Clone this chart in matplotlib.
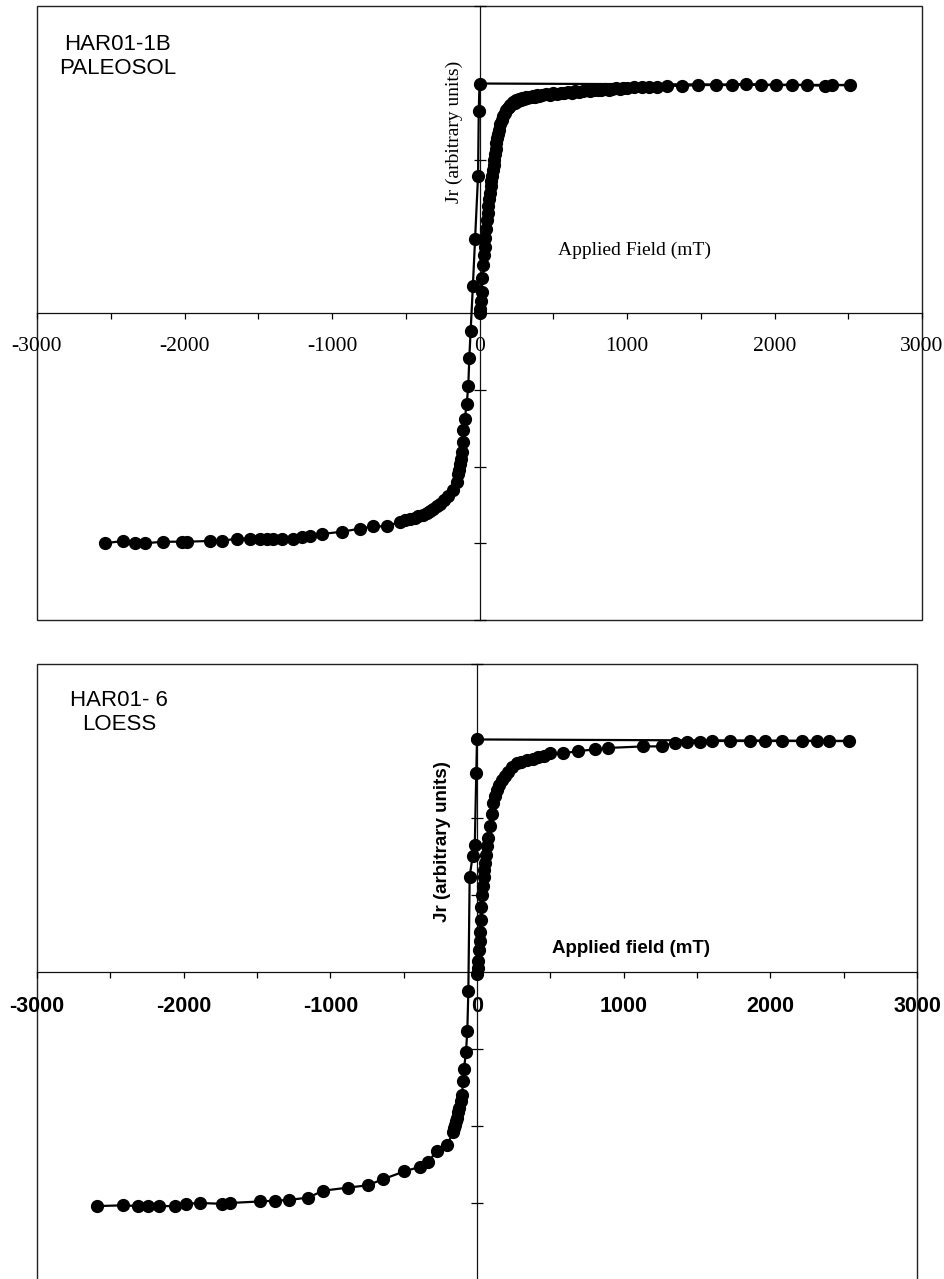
import numpy as np
import matplotlib
matplotlib.use("Agg")
import matplotlib.pyplot as plt
from matplotlib.patches import Rectangle
from matplotlib.ticker import MultipleLocator, FuncFormatter

# ---------------- data: HAR01-1B PALEOSOL ----------------
p_acq_field = [0, 5, 10, 15, 20, 25, 30, 35, 40, 45, 50, 55, 60, 65, 70, 75,
               80, 85, 90, 95, 100, 105, 110, 115, 120, 125, 130, 140, 150,
               160, 170, 180, 190, 200, 210, 220, 230, 240, 250, 260, 270, 280,
               290, 300, 315, 325, 340, 350, 365, 375, 390, 400, 425, 450, 475,
               500, 525, 550, 575, 600, 625, 650, 675, 700, 725, 750, 775, 800,
               825, 850, 875, 900, 925, 950, 975, 1000, 1050, 1100, 1150, 1200,
               1270, 1370, 1480, 1600, 1710, 1810, 1910, 2010, 2120, 2220, 2340,
               2390, 2510]
p_acq_jr = [0.00, 0.05, 0.15, 0.28, 0.45, 0.62, 0.75, 0.86, 0.98, 1.10, 1.21,
            1.30, 1.40, 1.48, 1.57, 1.65, 1.72, 1.79, 1.86, 1.93, 2.00, 2.07,
            2.14, 2.21, 2.28, 2.33, 2.38, 2.46, 2.52, 2.57, 2.61, 2.64, 2.67,
            2.68, 2.71, 2.72, 2.75, 2.74, 2.77, 2.76, 2.79, 2.78, 2.80, 2.79,
            2.81, 2.80, 2.82, 2.81, 2.83, 2.82, 2.84, 2.83, 2.84, 2.85, 2.84,
            2.86, 2.85, 2.87, 2.86, 2.88, 2.87, 2.89, 2.88, 2.89, 2.90, 2.89,
            2.91, 2.90, 2.91, 2.92, 2.91, 2.92, 2.93, 2.92, 2.93, 2.93, 2.94,
            2.94, 2.95, 2.95, 2.96, 2.96, 2.97, 2.97, 2.97, 2.98, 2.97, 2.97,
            2.97, 2.97, 2.96, 2.97, 2.97]
p_bf_field = [0, -5, -10, -30, -45, -60, -69, -76, -87, -100, -110, -114, -121,
              -126, -132, -138, -144, -155, -180, -212, -240, -268, -290, -313,
              -335, -358, -385, -415, -440, -471, -505, -539, -629, -720, -810,
              -934, -1070, -1149, -1205, -1262, -1341, -1398, -1443, -1488,
              -1556, -1646, -1748, -1827, -1985, -2019, -2144, -2268, -2336,
              -2415, -2539]
p_bf_jr = [2.99, 2.63, 1.78, 0.96, 0.35, -0.23, -0.58, -0.95, -1.19, -1.38,
           -1.53, -1.68, -1.81, -1.90, -1.97, -2.05, -2.10, -2.20, -2.30, -2.38,
           -2.44, -2.49, -2.52, -2.55, -2.58, -2.61, -2.63, -2.65, -2.67, -2.68,
           -2.70, -2.72, -2.78, -2.78, -2.81, -2.85, -2.88, -2.90, -2.92, -2.94,
           -2.94, -2.94, -2.94, -2.94, -2.94, -2.94, -2.97, -2.97, -2.98, -2.98,
           -2.98, -3.00, -3.00, -2.97, -3.00]

# ---------------- data: HAR01-6 LOESS ----------------
l_acq_field = [0, 5, 10, 15, 20, 22, 25, 30, 35, 40, 45, 50, 55, 60, 66, 75,
               89, 100, 111, 122, 134, 150, 168, 190, 214, 240, 271, 300, 339,
               380, 418, 460, 498, 589, 691, 805, 896, 1135, 1260, 1351, 1431,
               1522, 1601, 1726, 1863, 1965, 2079, 2215, 2318, 2397, 2533]
l_acq_jr = [-0.02, 0.05, 0.14, 0.28, 0.40, 0.52, 0.67, 0.85, 1.00, 1.12, 1.24,
            1.33, 1.42, 1.52, 1.63, 1.74, 1.89, 2.05, 2.19, 2.28, 2.36, 2.43,
            2.49, 2.55, 2.60, 2.66, 2.71, 2.73, 2.75, 2.77, 2.79, 2.81, 2.84,
            2.84, 2.87, 2.89, 2.91, 2.93, 2.93, 2.98, 2.99, 2.99, 3.00, 3.00,
            3.00, 3.00, 3.00, 3.00, 3.00, 3.00, 3.00]
l_bf_field = [0, -5, -15, -30, -50, -59, -66, -75, -89, -93, -104, -112, -123,
              -128, -134, -140, -150, -158, -164, -203, -275, -332, -389, -496,
              -639, -746, -878, -1049, -1151, -1281, -1378, -1481, -1685, -1742,
              -1890, -1981, -2061, -2168, -2243, -2311, -2413, -2588]
l_bf_jr = [3.02, 2.58, 1.65, 1.50, 1.24, -0.25, -0.76, -1.04, -1.26, -1.41,
           -1.60, -1.68, -1.76, -1.82, -1.89, -1.94, -1.99, -2.03, -2.08, -2.25,
           -2.32, -2.47, -2.53, -2.59, -2.69, -2.77, -2.80, -2.84, -2.93, -2.96,
           -2.97, -2.98, -3.00, -3.01, -3.00, -3.01, -3.04, -3.04, -3.04, -3.04,
           -3.03, -3.04]

x_major = [-3000, -2000, -1000, 0, 1000, 2000, 3000]

W, H = 944, 1279
fig = plt.figure(figsize=(W / 100, H / 100), dpi=100)
fig.patch.set_facecolor("white")


def make_panel(rect, field, jr, tick_font, tick_weight, title, lab_font,
               lab_weight, lab_size, jr_xy, af_xy, af_text, title_xy):
    ax = fig.add_axes(rect)
    ax.set_xlim(-3000, 3000)
    ax.set_ylim(-4, 4)
    ax.plot(field, jr, color="black", lw=1.6, marker="o", ms=8.5,
            mfc="black", mec="black", zorder=3, clip_on=False)
    for s in ["top", "right"]:
        ax.spines[s].set_visible(False)
    ax.spines["left"].set_position(("data", 0))
    ax.spines["bottom"].set_position(("data", 0))
    for s in ["left", "bottom"]:
        ax.spines[s].set_linewidth(0.9)
        ax.spines[s].set_color("#111111")
    ax.add_patch(Rectangle((0, 0), 1, 1, transform=ax.transAxes, fill=False,
                           lw=1.0, ec="#222222", clip_on=False, zorder=1))
    ax.xaxis.set_major_locator(MultipleLocator(1000))
    ax.xaxis.set_minor_locator(MultipleLocator(500))
    ax.xaxis.set_major_formatter(FuncFormatter(lambda v, p: "%d" % v))
    ax.yaxis.set_major_locator(MultipleLocator(1))
    ax.yaxis.set_major_formatter(FuncFormatter(lambda v, p: ""))
    ax.tick_params(axis="x", which="both", direction="out", length=4,
                   width=0.9, pad=13)
    ax.tick_params(axis="y", which="major", direction="inout", length=9,
                   width=0.9)
    for lab in ax.get_xticklabels():
        lab.set_fontfamily(tick_font)
        lab.set_fontsize(15.5)
        lab.set_fontweight(tick_weight)
    ax.text(jr_xy[0], jr_xy[1], "Jr (arbitrary units)", rotation=90,
            ha="center", va="center", family=lab_font, weight=lab_weight,
            fontsize=lab_size)
    ax.text(af_xy[0], af_xy[1], af_text, ha="center", va="center",
            family=lab_font, weight=lab_weight, fontsize=lab_size)
    ax.text(title_xy[0], title_xy[1], title, transform=ax.transAxes,
            ha="center", va="center", multialignment="center",
            family="Liberation Sans", fontsize=16, linespacing=1.15)
    return ax


f1 = list(p_acq_field) + list(p_bf_field)
j1 = list(p_acq_jr) + list(p_bf_jr)
f2 = list(l_acq_field) + list(l_bf_field)
j2 = list(l_acq_jr) + list(l_bf_jr)

make_panel([37 / W, 1 - 620 / H, 885 / W, 614 / H], f1, j1,
           "Liberation Serif", "normal", "HAR01-1B\nPALEOSOL",
           "Liberation Serif", "normal", 14, (-173, 2.36), (1054, 0.82),
           "Applied Field (mT)", (0.0915, 0.918))

make_panel([37 / W, 1 - 1280 / H, 880 / W, 616 / H], f2, j2,
           "Liberation Sans", "bold", "HAR01- 6\nLOESS",
           "Liberation Sans", "bold", 13.5, (-232, 1.69), (1051, 0.31),
           "Applied field (mT)", (0.093, 0.921))

fig.savefig("out.png", dpi=100, facecolor="white")
